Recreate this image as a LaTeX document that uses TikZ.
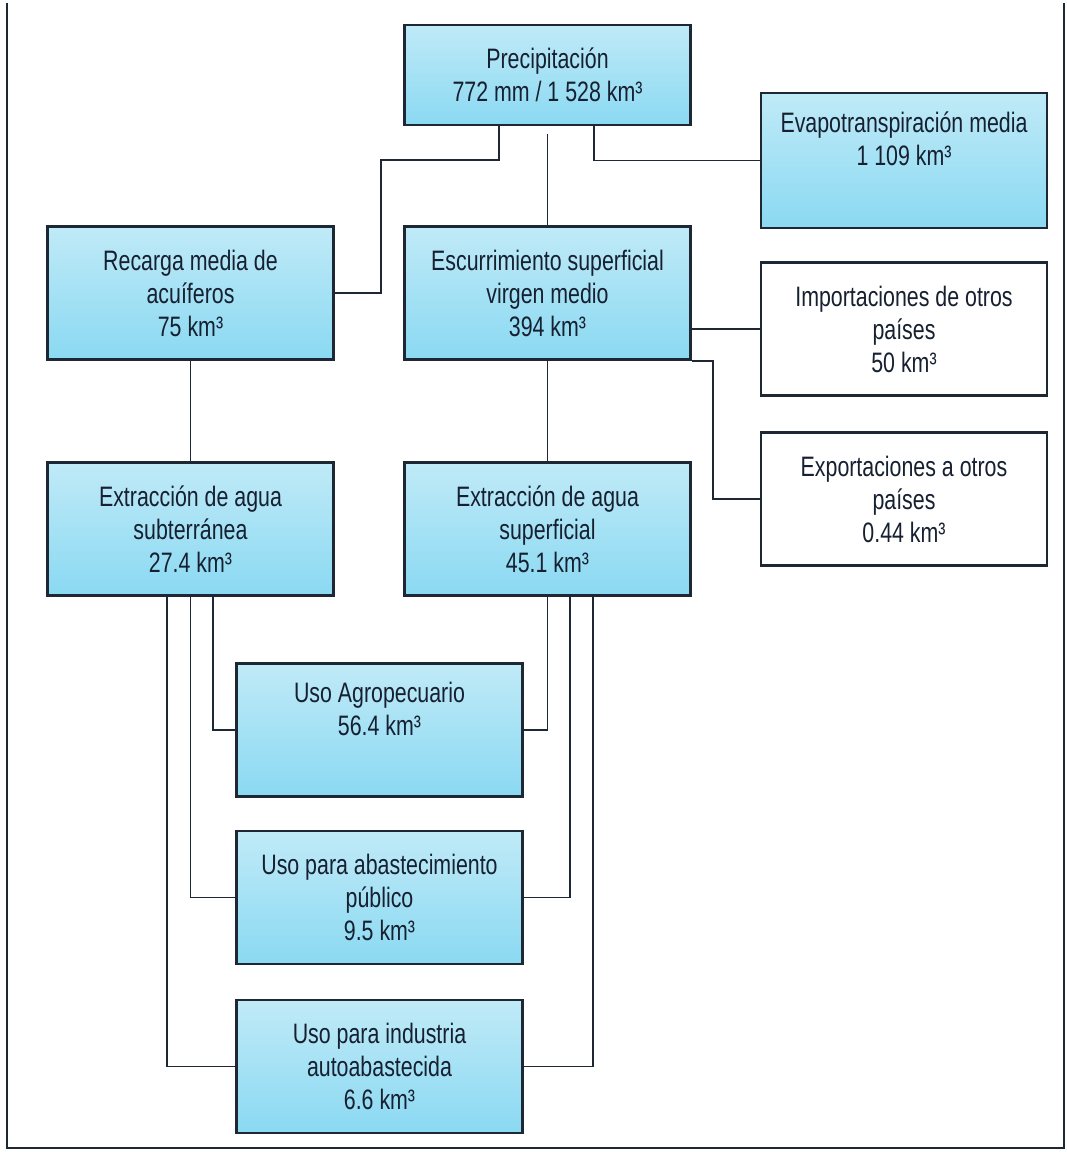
\documentclass[tikz,border=0pt]{standalone}
\usepackage{fontspec}
\setmainfont{Liberation Sans}[FakeStretch=0.76]
\usepackage{tikz}

\definecolor{boxline}{RGB}{30,40,52}
\definecolor{boxtext}{RGB}{22,32,48}
\definecolor{cyantop}{RGB}{192,234,247}
\definecolor{cyanmid}{RGB}{228,246,251}
\definecolor{cyanbot}{RGB}{138,217,242}

\begin{document}
\begin{tikzpicture}
        [
            x = 0.02cm, y = -0.02cm,
            box/.style = {draw = boxline, line width = 1.3pt, minimum width = 5.72cm,
                    minimum height = 2.66cm, align = center, text = boxtext,
                    font = \fontsize{16}{18.8}\selectfont},
            bluebox/.style = {box, top color = cyantop, middle color = cyanmid, bottom color = cyanbot},
            whitebox/.style = {box, fill = white},
            link/.style = {draw = boxline, line width = 1.1pt},
        ]

        \useasboundingbox (0,0) rectangle (1067,1152);
        \draw[link, line width = 1.5pt] (7,3) -- (7,1148) -- (1064,1148) -- (1064,3);

        \node[bluebox, minimum height = 2cm] (precip) at (547.5,75) {Precipitación\\772 mm / 1 528 km³};
        \node[bluebox, minimum height = 2.7cm] (evapo) at (904,160.5) {Evapotranspiración media\\1 109 km³\\ \strut};

        \node[bluebox] (recarga) at (190.5,293) {Recarga media de\\acuíferos\\75 km³};
        \node[bluebox] (escurr) at (547.5,293) {Escurrimiento superficial\\virgen medio\\394 km³};
        \node[whitebox] (import) at (904,329) {Importaciones de otros\\países\\50 km³};
        \node[whitebox] (export) at (904,499) {Exportaciones a otros\\países\\0.44 km³};

        \node[bluebox] (extsub) at (190.5,529) {Extracción de agua\\subterránea\\27.4 km³};
        \node[bluebox] (extsup) at (547.5,529) {Extracción de agua\\superficial\\45.1 km³};

        \node[bluebox] (agro) at (379.5,730) {Uso Agropecuario\\56.4 km³\\ \strut};
        \node[bluebox] (abast) at (379.5,897.5) {Uso para abastecimiento\\público\\9.5 km³};
        \node[bluebox] (indus) at (379.5,1066.5) {Uso para industria\\autoabastecida\\6.6 km³};

        \coordinate (kprecip) at (381,160);
        \coordinate (kexport) at (713,499);

        \draw[link] ([xshift = -0.97cm]precip.south) |- (kprecip) |- (recarga.east);
        \draw[link] ([yshift = -0.16cm]precip.south) -- (escurr.north);
        \draw[link] ([xshift = 0.93cm]precip.south) |- (evapo.west);

        \draw[link] (import.west -| escurr.east) -- (import.west);
        \draw[link] (escurr.south east) -| (kexport) -- (export.west);

        \draw[link] (recarga.south) -- (extsub.north);
        \draw[link] (escurr.south) -- (extsup.north);

        \draw[link] ([xshift = 0.45cm]extsub.south) |- (agro.west);
        \draw[link] (extsub.south) |- (abast.west);
        \draw[link] ([xshift = -0.47cm]extsub.south) |- (indus.west);

        \draw[link] (extsup.south) |- (agro.east);
        \draw[link] ([xshift = 0.45cm]extsup.south) |- (abast.east);
        \draw[link] ([xshift = 0.91cm]extsup.south) |- (indus.east);

    \end{tikzpicture}
\end{document}
